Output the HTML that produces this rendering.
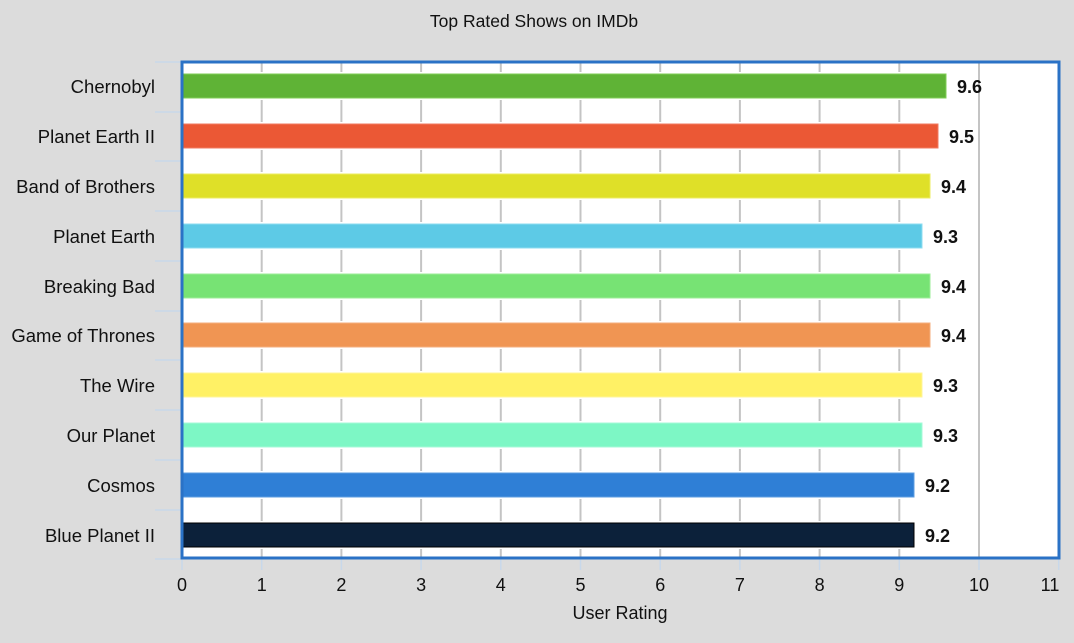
<!DOCTYPE html>
<html><head><meta charset="utf-8"><style>
html,body{margin:0;padding:0;background:#dcdcdc;}
svg{display:block;font-family:"Liberation Sans",sans-serif;}
</style></head><body>
<svg width="1074" height="643" viewBox="0 0 1074 643" xmlns="http://www.w3.org/2000/svg">
<rect width="1074" height="643" fill="#dcdcdc"/>
<text x="534" y="27" text-anchor="middle" font-size="17.5" fill="#111">Top Rated Shows on IMDb</text>
<rect x="182" y="62" width="877" height="496" fill="#fff"/>
<g stroke="#c4c4c4" stroke-width="2">
<line x1="261.7" y1="62" x2="261.7" y2="558"/><line x1="341.4" y1="62" x2="341.4" y2="558"/>
<line x1="421.1" y1="62" x2="421.1" y2="558"/><line x1="500.8" y1="62" x2="500.8" y2="558"/>
<line x1="580.5" y1="62" x2="580.5" y2="558"/><line x1="660.2" y1="62" x2="660.2" y2="558"/>
<line x1="739.9" y1="62" x2="739.9" y2="558"/><line x1="819.6" y1="62" x2="819.6" y2="558"/>
<line x1="899.3" y1="62" x2="899.3" y2="558"/><line x1="979" y1="62" x2="979" y2="558"/>
</g>
<g fill="#fff">
<rect x="183" y="72" width="780" height="28"/><rect x="183" y="122" width="780" height="28"/>
<rect x="183" y="172" width="780" height="28"/><rect x="183" y="222" width="780" height="28"/>
<rect x="183" y="272" width="780" height="28"/><rect x="183" y="321" width="780" height="28"/>
<rect x="183" y="371" width="780" height="28"/><rect x="183" y="421" width="780" height="28"/>
<rect x="183" y="471" width="780" height="28"/><rect x="183" y="521" width="780" height="28"/>
</g>
<g stroke="#c8d8ea" stroke-width="1.5">
<line x1="155" y1="62" x2="181" y2="62"/><line x1="155" y1="112" x2="181" y2="112"/>
<line x1="155" y1="161" x2="181" y2="161"/><line x1="155" y1="211" x2="181" y2="211"/>
<line x1="155" y1="261" x2="181" y2="261"/><line x1="155" y1="311" x2="181" y2="311"/>
<line x1="155" y1="360" x2="181" y2="360"/><line x1="155" y1="410" x2="181" y2="410"/>
<line x1="155" y1="460" x2="181" y2="460"/><line x1="155" y1="510" x2="181" y2="510"/>
<line x1="155" y1="559" x2="181" y2="559"/>
<line x1="182" y1="559" x2="182" y2="570"/><line x1="261.7" y1="559" x2="261.7" y2="570"/>
<line x1="341.4" y1="559" x2="341.4" y2="570"/><line x1="421.1" y1="559" x2="421.1" y2="570"/>
<line x1="500.8" y1="559" x2="500.8" y2="570"/><line x1="580.5" y1="559" x2="580.5" y2="570"/>
<line x1="660.2" y1="559" x2="660.2" y2="570"/><line x1="739.9" y1="559" x2="739.9" y2="570"/>
<line x1="819.6" y1="559" x2="819.6" y2="570"/><line x1="899.3" y1="559" x2="899.3" y2="570"/>
<line x1="979" y1="559" x2="979" y2="570"/><line x1="1058.7" y1="559" x2="1058.7" y2="570"/>
</g>
<g stroke-width="1">
<rect x="182" y="74" width="764" height="24" fill="#5fb336" stroke="#7fcc55"/>
<rect x="182" y="124" width="756" height="24" fill="#eb5835" stroke="#f07a60"/>
<rect x="182" y="174" width="748" height="24" fill="#dfe028" stroke="#ecec60"/>
<rect x="182" y="224" width="740" height="24" fill="#5dcae6" stroke="#8ddcf0"/>
<rect x="182" y="274" width="748" height="24" fill="#77e374" stroke="#9cee99"/>
<rect x="182" y="323" width="748" height="24" fill="#f09553" stroke="#f4ae7e"/>
<rect x="182" y="373" width="740" height="24" fill="#fff165" stroke="#fff599"/>
<rect x="182" y="423" width="740" height="24" fill="#7df7c5" stroke="#a5fad8"/>
<rect x="182" y="473" width="732" height="24" fill="#2f7fd6" stroke="#5d9ce0"/>
<rect x="182" y="523" width="732" height="24" fill="#0c213a" stroke="#000"/>
</g>
<rect x="182" y="62" width="877" height="496" fill="none" stroke="#2a72c6" stroke-width="3"/>
<g font-size="18.5" fill="#111" text-anchor="end">
<text x="155" y="93">Chernobyl</text><text x="155" y="143">Planet Earth II</text>
<text x="155" y="193">Band of Brothers</text><text x="155" y="243">Planet Earth</text>
<text x="155" y="293">Breaking Bad</text><text x="155" y="342">Game of Thrones</text>
<text x="155" y="392">The Wire</text><text x="155" y="442">Our Planet</text>
<text x="155" y="492">Cosmos</text><text x="155" y="542">Blue Planet II</text>
</g>
<g font-size="18" font-weight="bold" fill="#111">
<text x="957" y="93">9.6</text><text x="949" y="143">9.5</text>
<text x="941" y="193">9.4</text><text x="933" y="243">9.3</text>
<text x="941" y="293">9.4</text><text x="941" y="342">9.4</text>
<text x="933" y="392">9.3</text><text x="933" y="442">9.3</text>
<text x="925" y="542">9.2</text><text x="925" y="492">9.2</text>
</g>
<g font-size="18" fill="#111" text-anchor="middle">
<text x="182" y="591">0</text><text x="261.7" y="591">1</text><text x="341.4" y="591">2</text>
<text x="421.1" y="591">3</text><text x="500.8" y="591">4</text><text x="580.5" y="591">5</text>
<text x="660.2" y="591">6</text><text x="739.9" y="591">7</text><text x="819.6" y="591">8</text>
<text x="899.3" y="591">9</text><text x="979" y="591">10</text><text x="1050" y="591">11</text>
<text x="620" y="619">User Rating</text>
</g>
</svg>
</body></html>
